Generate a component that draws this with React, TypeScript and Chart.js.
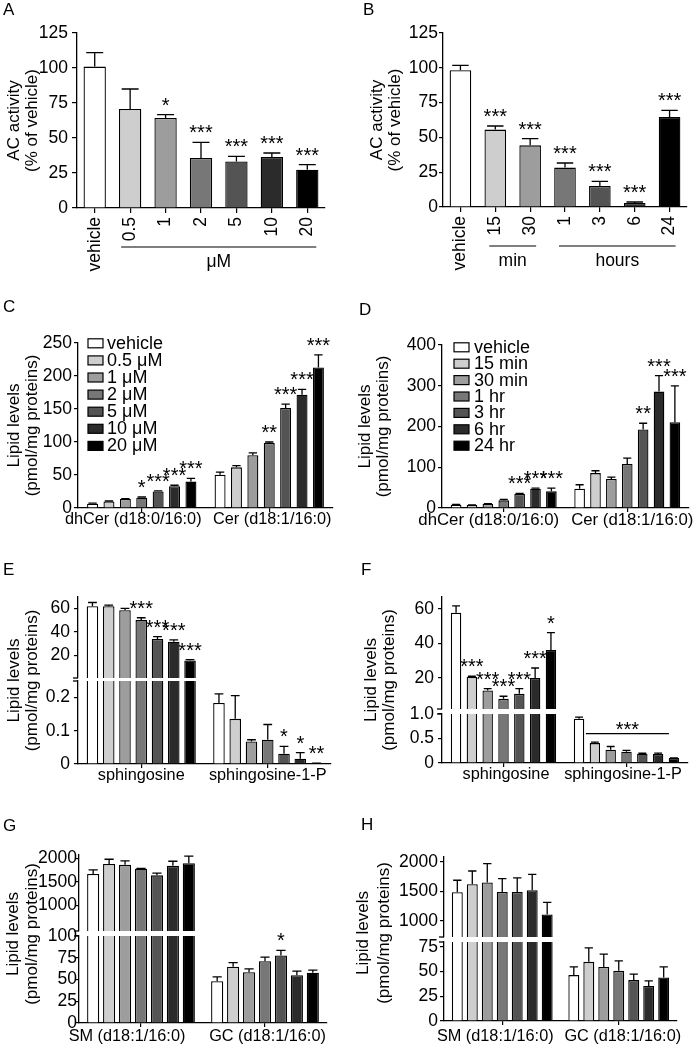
import React, { useEffect, useRef } from 'react';
import { Chart, registerables } from 'chart.js';

Chart.register(...registerables);

const FONT = '"Liberation Sans", Arial, Helvetica, sans-serif';
const INK = '#000000';
Chart.defaults.font.family = FONT;

// ---------------- shared ----------------
const doseSeries = ['vehicle', '0.5 μM', '1 μM', '2 μM', '5 μM', '10 μM', '20 μM'];
const timeSeries = ['vehicle', '15 min', '30 min', '1 hr', '3 hr', '6 hr', '24 hr'];
const greys = ['#ffffff', '#cecece', '#9d9d9d', '#777777', '#545454', '#2b2b2b', '#000000'];
const lipidTitle = ['Lipid levels', '(pmol/mg proteins)'];
const acTitle = ['AC activity', '(% of vehicle)'];

// ---------------- Panel A ----------------
const aCategories = ['vehicle', '0.5', '1', '2', '5', '10', '20'];
const aValues = [101, 70.7, 64.3, 35.7, 33.3, 36.4, 27.4];
const aErrors = [10, 14.3, 2.4, 11.2, 3.6, 2.9, 3.6];
const aStars = ['', '', '*', '***', '***', '***', '***'];
const aTicks = [0, 25, 50, 75, 100, 125];

// ---------------- Panel B ----------------
const bCategories = ['vehicle', '15', '30', '1', '3', '6', '24'];
const bValues = [98.2, 55.6, 44.3, 28.3, 15.1, 2.9, 64.7];
const bErrors = [3.6, 2.6, 4.8, 3.3, 3.3, 0.7, 4.7];
const bStars = ['', '***', '***', '***', '***', '***', '***'];
const bTicks = [0, 25, 50, 75, 100, 125];

// ---------------- Panel C (per series: [dhCer, Cer]) ----------------
const cCategories = ['dhCer (d18:0/16:0)', 'Cer (d18:1/16:0)'];
const cValues = [[6.5, 50.5], [10, 61.6], [13.6, 80], [15.7, 98.5], [25, 151.5], [33, 171.7], [40, 213]];
const cErrors = [[0.8, 4], [0.6, 2.5], [0.6, 3.5], [1, 1.5], [0.8, 6], [1.5, 8], [5, 19]];
const cStars = [['', ''], ['', ''], ['', ''], ['*', '**'], ['***', '***'], ['***', '***'], ['***', '***']];
const cTicks = [0, 50, 100, 150, 200, 250];

// ---------------- Panel D ----------------
const dCategories = ['dhCer (d18:0/16:0)', 'Cer (d18:1/16:0)'];
const dValues = [[8, 47.3], [7.3, 85.7], [9.8, 71], [18.8, 107.8], [34.3, 192.7], [47.3, 285.7], [40.8, 210.6]];
const dErrors = [[0.6, 9.7], [0.5, 5.7], [0.6, 5], [2.2, 14.6], [1.7, 15.3], [1.7, 39.3], [8.2, 89]];
const dStars = [['', ''], ['', ''], ['', ''], ['', ''], ['***', '**'], ['***', '***'], ['***', '***']];
const dTicks = [0, 100, 200, 300, 400];

// ---------------- Panel E ----------------
const eCategories = ['sphingosine', 'sphingosine-1-P'];
const eValues = [[62.1, 0.184], [62.1, 0.136], [58.7, 0.068], [50.2, 0.073], [34, 0.031], [31.7, 0.016], [15.6, 0.0015]];
const eErrors = [[3.2, 0.027], [0.9, 0.07], [1.5, 0.005], [2, 0.046], [2, 0.022], [1.5, 0.018], [0.6, 0.001]];
const eStars = [['', ''], ['', ''], ['', ''], ['***', ''], ['***', '*'], ['***', '*'], ['***', '**']];
const eUpperTicks = [20, 40, 60];
const eLowerTicks = [0, 0.1, 0.2];
const eLowerTickLabels = ['0', '0.1', '0.2'];

// ---------------- Panel F ----------------
const fCategories = ['sphingosine', 'sphingosine-1-P'];
const fValues = [[57.9, 0.905], [20.6, 0.406], [12.7, 0.27], [7.9, 0.229], [10.8, 0.189], [20, 0.182], [36.2, 0.1]];
const fErrors = [[4, 0.03], [0.4, 0.02], [1.1, 0.067], [1.5, 0.027], [3, 0.01], [5.8, 0.02], [10.1, 0.005]];
const fStars = [['', ''], ['***', ''], ['***', ''], ['***', ''], ['***', ''], ['***', ''], ['*', '']];
const fUpperTicks = [20, 40, 60];
const fLowerTicks = [0, 0.5, 1];
const fLowerTickLabels = ['0', '0.5', '1.0'];

// ---------------- Panel G ----------------
const gCategories = ['SM (d18:1/16:0)', 'GC (d18:1/16:0)'];
const gValues = [[1665, 48], [1880, 64.7], [1860, 58.4], [1776, 71.1], [1636, 77.7], [1839, 55], [1895, 57.7]];
const gErrors = [[90, 5], [99, 4.6], [83, 3.9], [7, 4.7], [49, 5.8], [98, 4.6], [153, 3.1]];
const gStars = [['', ''], ['', ''], ['', ''], ['', ''], ['', '*'], ['', ''], ['', '']];
const gUpperTicks = [1000, 1500, 2000];
const gLowerTicks = [0, 25, 50, 75, 100];

// ---------------- Panel H ----------------
const hCategories = ['SM (d18:1/16:0)', 'GC (d18:1/16:0)'];
const hValues = [[1489, 46.5], [1624, 59.9], [1652, 54.8], [1494, 50.8], [1494, 41.4], [1523, 35.4], [1113, 44.1]];
const hErrors = [[202, 8.3], [224, 14.1], [320, 12.9], [225, 10.1], [236, 6.1], [269, 5.3], [202, 10.7]];
const hStars = [['', ''], ['', ''], ['', ''], ['', ''], ['', ''], ['', ''], ['', '']];
const hUpperTicks = [1000, 1500, 2000];
const hLowerTicks = [0, 25, 50, 75];

// ---------------- chart specs (layout only) ----------------
const base = {
  yTickLen: 4,
  yTickPad: 2,
  xFont: 16,
  xTickLen: 4,
  xTickPad: 1,
  catPct: 0.9,
};

const specs: any[] = [
  {
    ...base,
    canvas: { x: 0, y: 0, w: 346, h: 290 },
    area: { l: 77, t: 33, r: 325, b: 208 },
    categories: aCategories, seriesLabels: ['AC activity'],
    values: [aValues], colors: [greys], errors: [aErrors], stars: [aStars],
    yMin: 0, yMax: 125, yTicks: aTicks, yTickLen: 5, yTickPad: 4,
    showX: true, xRotate: true, xFont: 17.5, xTickLen: 5, xTickPad: 4,
    barPct: 0.63, catPct: 1,
    title: { lines: acTitle, padTop: 5 },
    letter: { text: 'A', x: 3, y: 15 },
    brackets: [{ from: 1, to: 6, label: 'μM' }], bracketExt: 9,
  },
  {
    ...base,
    canvas: { x: 346, y: 0, w: 347, h: 290 },
    area: { l: 97, t: 33, r: 341, b: 207 },
    categories: bCategories, seriesLabels: ['AC activity'],
    values: [bValues], colors: [greys], errors: [bErrors], stars: [bStars],
    yMin: 0, yMax: 125, yTicks: bTicks, yTickLen: 4, yTickPad: 1,
    showX: true, xRotate: true, xFont: 17.5, xTickLen: 5, xTickPad: 4,
    barPct: 0.62, catPct: 1,
    title: { lines: acTitle, padTop: 22 },
    letter: { text: 'B', x: 17, y: 15 },
    brackets: [{ from: 1, to: 2, label: 'min' }, { from: 3, to: 6, label: 'hours' }], bracketExt: 6,
  },
  {
    ...base,
    canvas: { x: 0, y: 290, w: 346, h: 255 },
    area: { l: 78, t: 53, r: 333, b: 218 },
    categories: cCategories, seriesLabels: doseSeries,
    values: cValues, colors: greys, errors: cErrors, stars: cStars,
    yMin: 0, yMax: 250, yTicks: cTicks,
    showX: true, barPct: 0.67,
    xLabels: { size: 16.3, dy: 11.8, shifts: [-8.5, 3] },
    title: { lines: lipidTitle, padTop: 5 },
    letter: { text: 'C', x: 3, y: 22 },
    legend: { dx: 10, dy: 0.3, row: 17.1, boxW: 15, boxH: 9, textDx: 19, size: 18 },
  },
  {
    ...base,
    canvas: { x: 346, y: 290, w: 347, h: 255 },
    area: { l: 96, t: 55, r: 343, b: 218 },
    categories: dCategories, seriesLabels: timeSeries,
    values: dValues, colors: greys, errors: dErrors, stars: dStars,
    yMin: 0, yMax: 400, yTicks: dTicks,
    showX: true, barPct: 0.67,
    xLabels: { size: 16.8, dy: 12.5, shifts: [-15, 5] },
    title: { lines: lipidTitle, padTop: 10 },
    letter: { text: 'D', x: 13, y: 25 },
    legend: { dx: 12, dy: 2.3, row: 16.4, boxW: 15, boxH: 9, textDx: 20, size: 18 },
  },
  // E upper / lower
  {
    ...base,
    canvas: { x: 0, y: 545, w: 346, h: 148 },
    area: { l: 78, t: 52, r: 331, b: 133 },
    categories: eCategories, seriesLabels: doseSeries,
    values: eValues, colors: greys, errors: eErrors, stars: eStars,
    yMin: 0.5, yMax: 70, yTicks: eUpperTicks, yTickPad: 4,
    showX: false, barPct: 0.71, breakMark: 'bottom',
  },
  {
    ...base,
    canvas: { x: 0, y: 545, w: 346, h: 255 },
    area: { l: 78, t: 136, r: 331, b: 219 },
    categories: eCategories, seriesLabels: doseSeries,
    values: eValues, colors: greys, errors: eErrors, stars: eStars,
    yMin: 0, yMax: 0.25, yTicks: eLowerTicks, yTickLabels: eLowerTickLabels, yTickPad: 4,
    showX: true, barPct: 0.71, breakMark: 'top',
    xLabels: { size: 16.3, dy: 11.5, shifts: [0, 0] },
    sideTitle: { lines: lipidTitle, x1: 14.5, x2: 32.5, yc: 135.5 },
    letter: { text: 'E', x: 3, y: 30 },
  },
  // F upper / lower
  {
    ...base,
    canvas: { x: 346, y: 545, w: 347, h: 179 },
    area: { l: 96, t: 52, r: 342, b: 164 },
    categories: fCategories, seriesLabels: timeSeries,
    values: fValues, colors: greys, errors: fErrors, stars: fStars,
    yMin: 2, yMax: 67, yTicks: fUpperTicks, yTickPad: 4,
    showX: false, barPct: 0.66, breakMark: 'bottom',
  },
  {
    ...base,
    canvas: { x: 346, y: 545, w: 347, h: 255 },
    area: { l: 96, t: 169, r: 342, b: 218 },
    categories: fCategories, seriesLabels: timeSeries,
    values: fValues, colors: greys, errors: fErrors, stars: fStars,
    yMin: 0, yMax: 1, yTicks: fLowerTicks, yTickLabels: fLowerTickLabels, yTickPad: 4,
    showX: true, barPct: 0.66, breakMark: 'top',
    xLabels: { size: 16.3, dy: 12, shifts: [2.5, -3.5] },
    sideTitle: { lines: lipidTitle, x1: 25, x2: 43, yc: 135 },
    letter: { text: 'F', x: 15, y: 30 },
    groupBracket: { cat: 1, fromDs: 1, toDs: 6, value: 0.6, label: '***', dx0: -9, dx1: -5 },
  },
  // G upper / lower
  {
    ...base,
    canvas: { x: 0, y: 800, w: 346, h: 146 },
    area: { l: 79, t: 55, r: 327, b: 131 },
    categories: gCategories, seriesLabels: doseSeries,
    values: gValues, colors: greys, errors: gErrors, stars: gStars,
    yMin: 450, yMax: 2070, yTicks: gUpperTicks, yTickPad: -2,
    showX: false, barPct: 0.76, breakMark: 'bottom',
  },
  {
    ...base,
    canvas: { x: 0, y: 800, w: 346, h: 248 },
    area: { l: 79, t: 136, r: 327, b: 223 },
    categories: gCategories, seriesLabels: doseSeries,
    values: gValues, colors: greys, errors: gErrors, stars: gStars,
    yMin: 0, yMax: 100, yTicks: gLowerTicks, yTickPad: -2,
    showX: true, barPct: 0.76, breakMark: 'top',
    xLabels: { size: 16.3, dy: 14, shifts: [-14, 2.5] },
    sideTitle: { lines: lipidTitle, x1: 13.3, x2: 32, yc: 134 },
    letter: { text: 'G', x: 3, y: 31 },
  },
  // H upper / lower
  {
    ...base,
    canvas: { x: 346, y: 800, w: 347, h: 152 },
    area: { l: 98, t: 57, r: 331, b: 137 },
    categories: hCategories, seriesLabels: timeSeries,
    values: hValues, colors: greys, errors: hErrors, stars: hStars,
    yMin: 730, yMax: 2085, yTicks: hUpperTicks, yTickPad: 2,
    showX: false, barPct: 0.73, breakMark: 'bottom',
  },
  {
    ...base,
    canvas: { x: 346, y: 800, w: 347, h: 248 },
    area: { l: 98, t: 142, r: 331, b: 221 },
    categories: hCategories, seriesLabels: timeSeries,
    values: hValues, colors: greys, errors: hErrors, stars: hStars,
    yMin: 0, yMax: 80, yTicks: hLowerTicks, yTickPad: 2,
    showX: true, barPct: 0.73, breakMark: 'top',
    xLabels: { size: 16.3, dy: 16, shifts: [-7, 4] },
    sideTitle: { lines: lipidTitle, x1: 17.5, x2: 38, yc: 133 },
    letter: { text: 'H', x: 15, y: 30 },
  },
];

function overlayPlugin(s: any) {
  return {
    id: 'overlay',
    afterDatasetsDraw(chart: any) {
      const ctx = chart.ctx;
      const ys = chart.scales.y;
      ctx.save();
      ctx.strokeStyle = INK;
      ctx.fillStyle = INK;
      ctx.lineWidth = 1.3;
      ctx.font = `20px ${FONT}`;
      ctx.textAlign = 'center';
      ctx.textBaseline = 'alphabetic';
      chart.data.datasets.forEach((ds: any, di: number) => {
        const meta = chart.getDatasetMeta(di);
        meta.data.forEach((el: any, i: number) => {
          const v = ds.data[i];
          if (v == null || v < ys.min || v > ys.max) return;
          const e = (s.errors[di] && s.errors[di][i]) || 0;
          const y0 = ys.getPixelForValue(v);
          const y1 = ys.getPixelForValue(v + e);
          if (e > 0) {
            const cap = el.width * 0.38;
            ctx.beginPath();
            ctx.moveTo(el.x, y0);
            ctx.lineTo(el.x, y1);
            ctx.moveTo(el.x - cap, y1);
            ctx.lineTo(el.x + cap, y1);
            ctx.stroke();
          }
          const st = s.stars[di] && s.stars[di][i];
          if (st) ctx.fillText(st, el.x, y1 - 3);
        });
      });
      if (s.groupBracket) {
        const g = s.groupBracket;
        const a = chart.getDatasetMeta(g.fromDs).data[g.cat];
        const b = chart.getDatasetMeta(g.toDs).data[g.cat];
        const y = ys.getPixelForValue(g.value);
        ctx.beginPath();
        ctx.moveTo(a.x + g.dx0, y);
        ctx.lineTo(b.x + g.dx1, y);
        ctx.stroke();
        ctx.fillText(g.label, (a.x + g.dx0 + b.x + g.dx1) / 2, y + 2);
      }
      ctx.restore();
    },
    afterDraw(chart: any) {
      const ctx = chart.ctx;
      const area = chart.chartArea;
      ctx.save();
      ctx.fillStyle = INK;
      ctx.strokeStyle = INK;
      ctx.lineWidth = 1.3;
      if (s.letter) {
        ctx.font = `17px ${FONT}`;
        ctx.textAlign = 'left';
        ctx.textBaseline = 'alphabetic';
        ctx.fillText(s.letter.text, s.letter.x, s.letter.y);
      }
      if (s.sideTitle) {
        const t = s.sideTitle;
        ctx.font = `17px ${FONT}`;
        ctx.textAlign = 'center';
        ctx.textBaseline = 'middle';
        t.lines.forEach((ln: string, k: number) => {
          ctx.save();
          ctx.translate(k === 0 ? t.x1 : t.x2, t.yc);
          ctx.rotate(-Math.PI / 2);
          ctx.fillText(ln, 0, 0);
          ctx.restore();
        });
      }
      if (s.xLabels) {
        const xs = chart.scales.x;
        const X = s.xLabels;
        ctx.font = `${X.size}px ${FONT}`;
        ctx.textAlign = 'center';
        ctx.textBaseline = 'middle';
        s.categories.forEach((c: string, i: number) => {
          ctx.fillText(c, xs.getPixelForValue(i) + X.shifts[i], area.bottom + X.dy);
        });
      }
      if (s.legend) {
        const L = s.legend;
        ctx.font = `${L.size}px ${FONT}`;
        ctx.textAlign = 'left';
        ctx.textBaseline = 'middle';
        ctx.lineWidth = 1.2;
        chart.data.datasets.forEach((ds: any, i: number) => {
          const cy = area.top + L.dy + i * L.row;
          const x0 = area.left + L.dx;
          ctx.fillStyle = ds.backgroundColor;
          ctx.fillRect(x0, cy - L.boxH / 2, L.boxW, L.boxH);
          ctx.strokeRect(x0, cy - L.boxH / 2, L.boxW, L.boxH);
          ctx.fillStyle = INK;
          ctx.fillText(ds.label, x0 + L.textDx, cy + 0.5);
        });
      }
      if (s.brackets) {
        const xs = chart.scales.x;
        ctx.font = `17.5px ${FONT}`;
        ctx.textAlign = 'center';
        ctx.textBaseline = 'middle';
        ctx.lineWidth = 1.2;
        s.brackets.forEach((b: any) => {
          const x0 = xs.getPixelForValue(b.from) - s.bracketExt;
          const x1 = xs.getPixelForValue(b.to) + s.bracketExt;
          const y = area.bottom + 39;
          ctx.beginPath();
          ctx.moveTo(x0, y);
          ctx.lineTo(x1, y);
          ctx.stroke();
          ctx.fillText(b.label, (x0 + x1) / 2, area.bottom + 54);
        });
      }
      if (s.breakMark) {
        const y = s.breakMark === 'top' ? area.top : area.bottom;
        ctx.beginPath();
        ctx.moveTo(area.left - 5, y);
        ctx.lineTo(area.left, y);
        ctx.stroke();
      }
      ctx.restore();
    },
  };
}

function buildConfig(s: any): any {
  const datasets = s.values.map((vals: number[], i: number) => ({
    label: s.seriesLabels[i],
    data: vals,
    backgroundColor: s.colors[i],
    borderColor: INK,
    borderWidth: 1.3,
    barPercentage: s.barPct,
    categoryPercentage: s.catPct,
    clip: 0,
  }));
  const tickLabel = (v: any) => {
    const idx = s.yTicks.indexOf(v);
    if (idx < 0) return '';
    return s.yTickLabels ? s.yTickLabels[idx] : String(v);
  };
  const xScale: any = {
    type: 'category',
    display: s.showX,
    offset: true,
    grid: {
      display: true,
      offset: false,
      drawOnChartArea: false,
      drawTicks: true,
      tickLength: s.xTickLen,
      color: INK,
      lineWidth: 1.2,
    },
    border: { display: true, color: INK, width: 1.3 },
    ticks: {
      display: !s.xLabels,
      color: INK,
      font: { family: FONT, size: s.xFont, lineHeight: 1 },
      padding: s.xTickPad,
      autoSkip: false,
      minRotation: s.xRotate ? 90 : 0,
      maxRotation: s.xRotate ? 90 : 0,
    },
  };
  if (s.showX) {
    xScale.afterFit = (sc: any) => {
      sc.height = s.canvas.h - s.area.b;
    };
  }
  return {
    type: 'bar',
    data: { labels: s.categories, datasets },
    plugins: [overlayPlugin(s)],
    options: {
      responsive: false,
      maintainAspectRatio: false,
      animation: false,
      devicePixelRatio: 1,
      events: [],
      layout: {
        padding: {
          left: 0,
          top: s.area.t,
          right: s.canvas.w - s.area.r,
          bottom: s.showX ? 0 : s.canvas.h - s.area.b,
        },
      },
      plugins: {
        legend: { display: false },
        tooltip: { enabled: false },
        title: { display: false },
      },
      scales: {
        x: xScale,
        y: {
          type: 'linear',
          min: s.yMin,
          max: s.yMax,
          bounds: 'data',
          grid: {
            display: true,
            drawOnChartArea: false,
            drawTicks: true,
            tickLength: s.yTickLen,
            color: INK,
            lineWidth: 1.2,
          },
          border: { display: true, color: INK, width: 1.3 },
          ticks: {
            color: INK,
            font: { family: FONT, size: 17.5, lineHeight: 1 },
            padding: s.yTickPad,
            autoSkip: false,
            callback: tickLabel,
          },
          afterBuildTicks: (sc: any) => {
            sc.ticks = s.yTicks.map((v: number) => ({ value: v }));
          },
          afterFit: (sc: any) => {
            sc.width = s.area.l;
          },
          title: s.title
            ? {
                display: true,
                text: s.title.lines,
                color: INK,
                font: { family: FONT, size: 17, lineHeight: 1.09 },
                padding: { top: s.title.padTop, bottom: 0 },
              }
            : { display: false },
        },
      },
    },
  };
}

export default function App() {
  const refs = useRef<(HTMLCanvasElement | null)[]>([]);
  useEffect(() => {
    document.body.style.margin = '0';
    const charts = specs.map((s, i) => {
      const c = refs.current[i];
      if (!c) return null;
      return new Chart(c, buildConfig(s));
    });
    return () => {
      charts.forEach((ch) => ch && ch.destroy());
    };
  }, []);
  return (
    <div
      style={{
        position: 'absolute',
        left: 0,
        top: 0,
        width: 693,
        height: 1048,
        background: '#ffffff',
        overflow: 'hidden',
      }}
    >
      {specs.map((s, i) => (
        <canvas
          key={i}
          ref={(el) => {
            refs.current[i] = el;
          }}
          width={s.canvas.w}
          height={s.canvas.h}
          style={{
            position: 'absolute',
            left: s.canvas.x,
            top: s.canvas.y,
            width: s.canvas.w,
            height: s.canvas.h,
          }}
        />
      ))}
    </div>
  );
}
